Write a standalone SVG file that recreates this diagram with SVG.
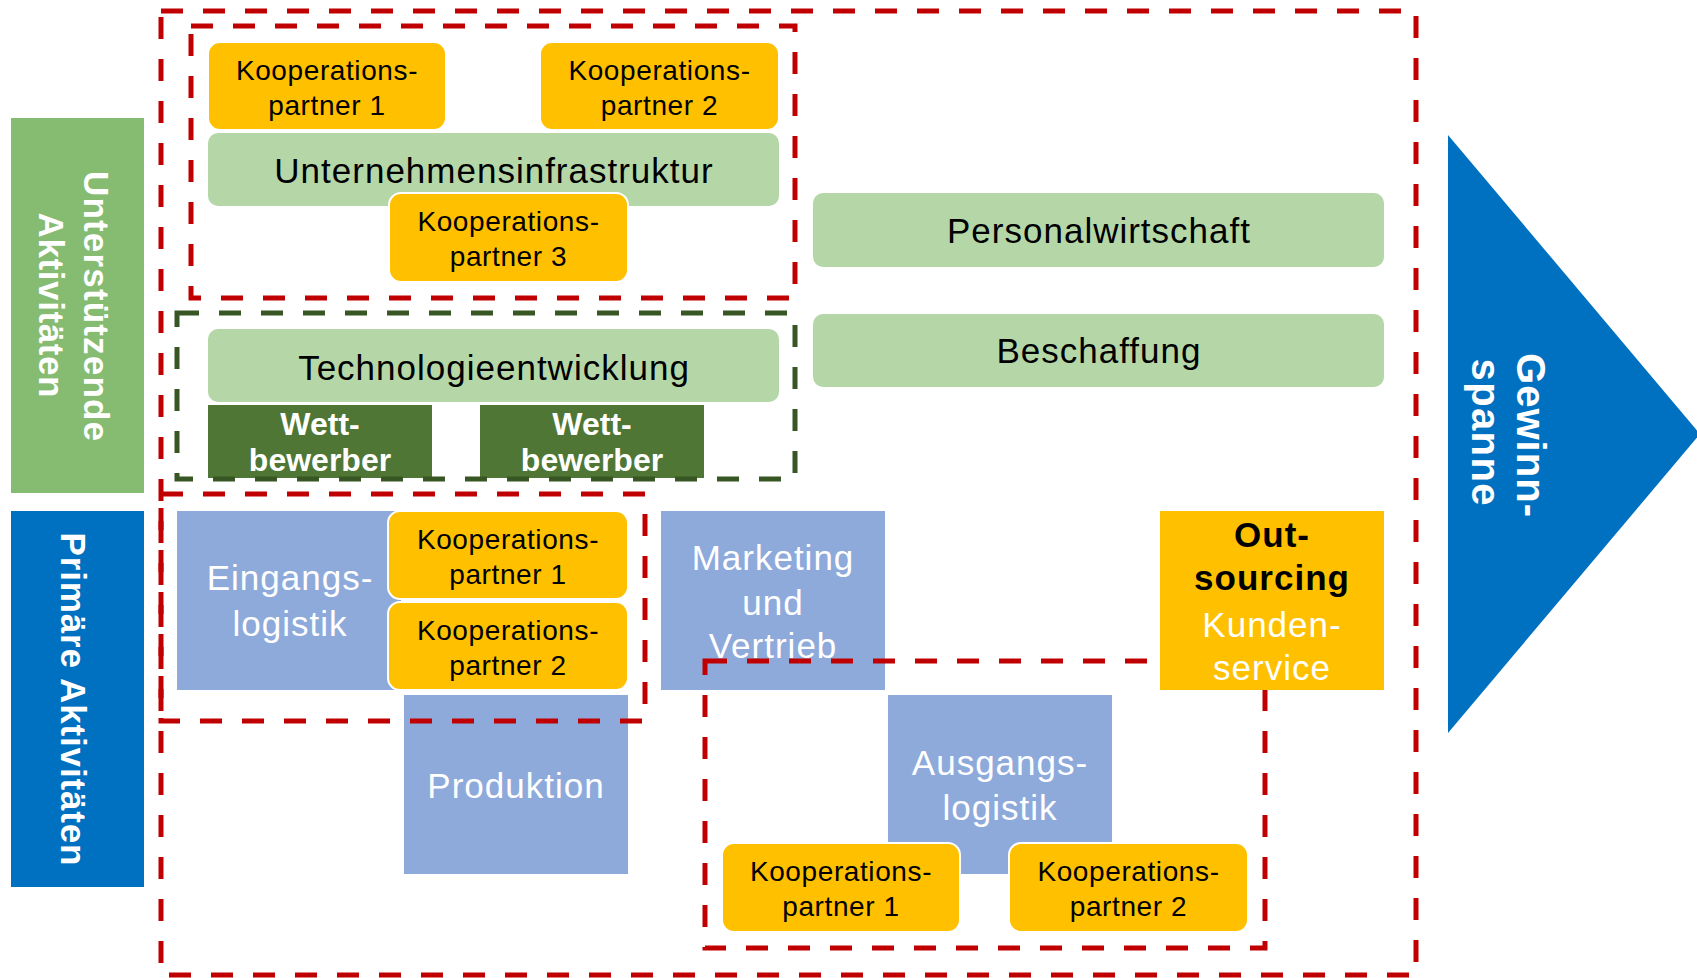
<svg xmlns="http://www.w3.org/2000/svg" width="1697" height="978" viewBox="0 0 1697 978">
<defs>
<style>
text{font-family:"Liberation Sans",Arial,sans-serif;text-anchor:middle}
.kp{fill:#FFC000;stroke:#fff;stroke-width:2}
.kpt{font-size:28px;letter-spacing:0.6px;fill:#000}
.lg{fill:#B5D7A8}
.bl{fill:#8EAADB}
.big{font-size:35px;letter-spacing:1px}
.bold{font-weight:bold}
.w{fill:#fff}
.k{fill:#000}
.wb{fill:#4F7634}
.wbt{font-size:32px;font-weight:bold;fill:#fff}
.red{fill:none;stroke:#C00000;stroke-width:5;stroke-dasharray:22 20}
.grn{fill:none;stroke:#375623;stroke-width:5;stroke-dasharray:22 20}
.lab{font-size:35px;font-weight:bold;fill:#fff}
</style>
</defs>
<rect x="0" y="0" width="1697" height="978" fill="#fff"/>

<g id="label-support">
<rect x="11" y="118" width="133" height="375" fill="#85BC72"/>
<text class="lab" transform="translate(84,306) rotate(90)" textLength="270" lengthAdjust="spacing">Unterstützende</text>
<text class="lab" transform="translate(39,305) rotate(90)" textLength="185" lengthAdjust="spacing">Aktivitäten</text>
</g>
<g id="label-primary">
<rect x="11" y="511" width="133" height="376" fill="#0070C0"/>
<text class="lab" transform="translate(61,699) rotate(90)" textLength="333" lengthAdjust="spacing">Primäre Aktivitäten</text>
</g>

<g id="unternehmensinfrastruktur">
<rect class="lg" x="208" y="133" width="571" height="73" rx="10"/>
<text class="big k" x="494" y="183">Unternehmensinfrastruktur</text>
</g>
<g id="kp-top-1">
<rect class="kp" x="208" y="42" width="238" height="88" rx="12"/>
<text class="kpt" x="327" y="80">Kooperations-</text>
<text class="kpt" x="327" y="115">partner 1</text>
</g>
<g id="kp-top-2">
<rect class="kp" x="540" y="42" width="239" height="88" rx="12"/>
<text class="kpt" x="659.5" y="80">Kooperations-</text>
<text class="kpt" x="659.5" y="115">partner 2</text>
</g>
<g id="kp-top-3">
<rect class="kp" x="389" y="193" width="239" height="89" rx="12"/>
<text class="kpt" x="508.5" y="231">Kooperations-</text>
<text class="kpt" x="508.5" y="266">partner 3</text>
</g>

<g id="technologieentwicklung">
<rect class="lg" x="208" y="329" width="571" height="73" rx="10"/>
<text class="big k" x="494" y="380">Technologieentwicklung</text>
</g>
<g id="wettbewerber-1">
<rect class="wb" x="208" y="405" width="224" height="73"/>
<text class="wbt" x="320" y="435">Wett-</text>
<text class="wbt" x="320" y="471">bewerber</text>
</g>
<g id="wettbewerber-2">
<rect class="wb" x="480" y="405" width="224" height="73"/>
<text class="wbt" x="592" y="435">Wett-</text>
<text class="wbt" x="592" y="471">bewerber</text>
</g>

<g id="personalwirtschaft">
<rect class="lg" x="813" y="193" width="571" height="74" rx="10"/>
<text class="big k" x="1099" y="243">Personalwirtschaft</text>
</g>
<g id="beschaffung">
<rect class="lg" x="813" y="314" width="571" height="73" rx="10"/>
<text class="big k" x="1099" y="363">Beschaffung</text>
</g>

<g id="eingangslogistik">
<rect class="bl" x="177" y="511" width="224" height="179"/>
<text class="big w" x="290" y="590">Eingangs-</text>
<text class="big w" x="290" y="636">logistik</text>
</g>
<g id="kp-eingang-1">
<rect class="kp" x="388" y="511" width="240" height="88" rx="12"/>
<text class="kpt" x="508" y="549">Kooperations-</text>
<text class="kpt" x="508" y="584">partner 1</text>
</g>
<g id="kp-eingang-2">
<rect class="kp" x="388" y="602" width="240" height="88" rx="12"/>
<text class="kpt" x="508" y="640">Kooperations-</text>
<text class="kpt" x="508" y="675">partner 2</text>
</g>
<g id="produktion">
<rect class="bl" x="404" y="695" width="224" height="179"/>
<text class="big w" x="516" y="798">Produktion</text>
</g>
<g id="marketing">
<rect class="bl" x="661" y="511" width="224" height="179"/>
<text class="big w" x="773" y="570">Marketing</text>
<text class="big w" x="773" y="615">und</text>
<text class="big w" x="773" y="658">Vertrieb</text>
</g>
<g id="ausgangslogistik">
<rect class="bl" x="888" y="695" width="224" height="179"/>
<text class="big w" x="1000" y="775">Ausgangs-</text>
<text class="big w" x="1000" y="820">logistik</text>
</g>
<g id="kp-ausgang-1">
<rect class="kp" x="722" y="843" width="238" height="89" rx="12"/>
<text class="kpt" x="841" y="881">Kooperations-</text>
<text class="kpt" x="841" y="916">partner 1</text>
</g>
<g id="kp-ausgang-2">
<rect class="kp" x="1009" y="843" width="239" height="89" rx="12"/>
<text class="kpt" x="1128.5" y="881">Kooperations-</text>
<text class="kpt" x="1128.5" y="916">partner 2</text>
</g>

<g id="frames">
<rect class="red" x="161" y="11" width="1255" height="964"/>
<rect class="red" x="191" y="26" width="604" height="272"/>
<rect class="grn" x="177" y="313" width="618" height="166"/>
<rect class="red" x="161" y="494" width="484" height="227"/>
<rect class="red" x="705" y="661" width="560" height="287"/>
</g>

<g id="outsourcing">
<rect x="1160" y="511" width="224" height="179" fill="#FFC000"/>
<text class="big bold k" x="1272" y="547">Out-</text>
<text class="big bold k" x="1272" y="590">sourcing</text>
<text class="big w" x="1272" y="637">Kunden-</text>
<text class="big w" x="1272" y="680">service</text>
</g>

<g id="gewinnspanne">
<polygon points="1448,135 1700,434 1448,733" fill="#0070C0"/>
<text class="lab" style="font-size:40px" transform="translate(1517,435) rotate(90)" textLength="164" lengthAdjust="spacing">Gewinn-</text>
<text class="lab" style="font-size:40px" transform="translate(1472,432) rotate(90)" textLength="147" lengthAdjust="spacing">spanne</text>
</g>
</svg>
